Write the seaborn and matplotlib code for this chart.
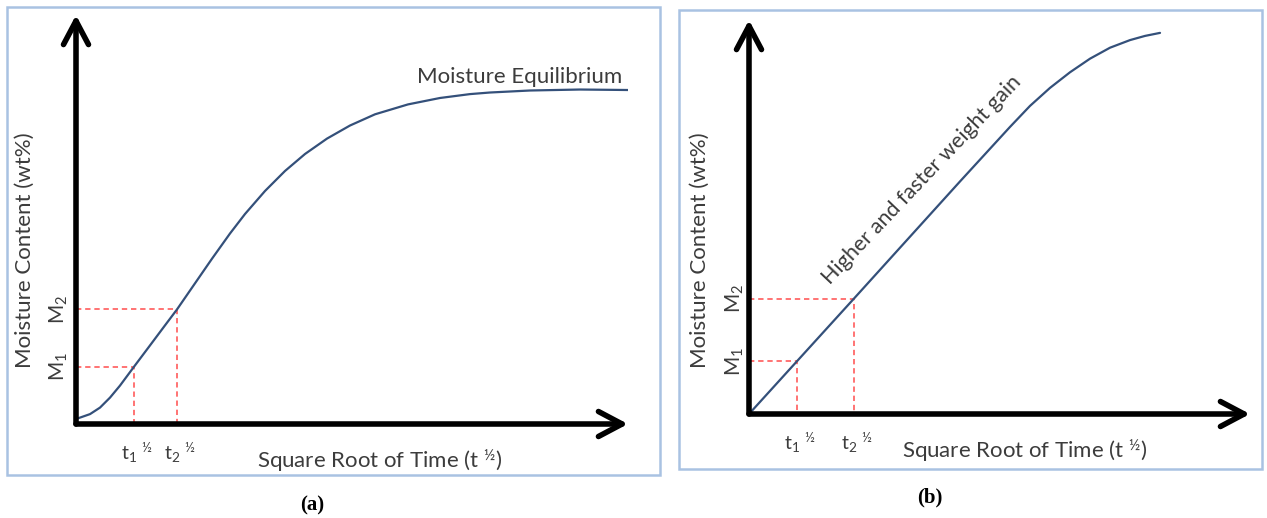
import matplotlib
matplotlib.use("Agg")
import matplotlib.pyplot as plt
import seaborn as sns
from matplotlib.patches import Rectangle

# ---- data (arbitrary 0-100 units, arrow tip = 100) ----
# panel (a): sigmoidal uptake reaching equilibrium
root_time_a = [0, 2.54, 4.35, 6.16, 7.97, 10.51, 13.41, 16.12, 18.30, 21.56,
               24.64, 27.90, 30.62, 34.24, 37.86, 41.49, 45.47, 49.64, 54.17,
               60.14, 65.94, 71.38, 75.00, 82.25, 91.30, 100]
moisture_a = [1.22, 2.42, 4.01, 6.45, 9.39, 14.01, 19.22, 24.11, 28.02, 34.40,
              40.42, 46.58, 51.35, 56.97, 61.86, 66.02, 69.78, 72.98, 75.72,
              78.14, 79.71, 80.66, 81.05, 81.54, 81.78, 81.66]
t_marks_a = [10.51, 18.30]
m_marks_a = [14.01, 28.02]

# panel (b): higher and faster, nearly linear gain
root_time_b = [0, 9.58, 20.96, 42.12, 52.10, 56.09, 60.08, 64.07, 68.06,
               72.06, 76.05, 79.04, 82.04]
moisture_b = [0, 13.40, 29.31, 59.03, 72.87, 78.20, 82.77, 86.73, 90.18,
              92.97, 94.90, 95.96, 96.73]
t_marks_b = [9.58, 20.96]
m_marks_b = [13.40, 29.31]

t_labels = ["t$_1$ $^{½}$", "t$_2$ $^{½}$"]
m_labels = ["M$_1$", "M$_2$"]
x_title = "Square Root of Time (t $^{½}$)"
y_title = "Moisture Content (wt%)"

sns.set_style("white")
plt.rcParams["font.family"] = ["Lato", "DejaVu Sans"]
plt.rcParams["mathtext.fontset"] = "custom"
plt.rcParams["mathtext.rm"] = "Lato"
plt.rcParams["mathtext.it"] = "Lato"
plt.rcParams["mathtext.bf"] = "Lato:bold"

W, H = 1267, 518
fig = plt.figure(figsize=(W / 100, H / 100), dpi=100)

curve_color = "#34507a"
dash_color = "#ff4d4d"
text_color = "#3c3c3c"
frame_color = "#a9c2e2"
fs = 16


def px_box(x0, y0, x1, y1):
    # pixel box (top-left origin) -> figure fraction rect
    return [x0 / W, 1 - y1 / H, (x1 - x0) / W, (y1 - y0) / H]


# light blue panel frames
for x0, y0, x1, y1 in [(7, 7, 660, 475), (679, 10, 1262, 469)]:
    fig.patches.append(Rectangle((x0 / W, 1 - y1 / H), (x1 - x0) / W, (y1 - y0) / H,
                                 transform=fig.transFigure, fill=False,
                                 edgecolor=frame_color, lw=1.8))

ax_a = fig.add_axes(px_box(76, 15, 628, 424))
ax_b = fig.add_axes(px_box(749, 20, 1250, 414))


def draw_panel(ax, xs, ys, t_marks, m_marks, m_off):
    ax.set_xlim(0, 100)
    ax.set_ylim(0, 100)
    ax.axis("off")
    # guide lines to the marked points
    for t, m in zip(t_marks, m_marks):
        ax.plot([0, t, t], [m, m, 0], ls=(0, (3.5, 2.5)), color=dash_color,
                lw=1.1, zorder=2, clip_on=False)
    sns.lineplot(x=xs, y=ys, ax=ax, color=curve_color, lw=1.6, zorder=3)
    # thick arrow axes
    for tip in [(1, 0), (0, 1)]:
        ax.annotate("", xy=tip, xytext=(0, 0), xycoords="axes fraction",
                    arrowprops=dict(arrowstyle="->,head_length=0.85,head_width=0.45",
                                    mutation_scale=20, lw=4, color="black",
                                    shrinkA=0, shrinkB=0, capstyle="round"),
                    zorder=5)
    for t, lab in zip(t_marks, t_labels):
        ax.annotate(lab, xy=(t, 0), xytext=(2, -21), textcoords="offset points",
                    ha="center", va="center", fontsize=fs - 2, color=text_color)
    for m, lab in zip(m_marks, m_labels):
        ax.annotate(lab, xy=(0, m), xytext=(m_off, 0), textcoords="offset points",
                    ha="center", va="center", rotation=90, fontsize=fs - 1,
                    color=text_color)
    ax.annotate(x_title, xy=(0.55, 0), xycoords="axes fraction", xytext=(0, -26),
                textcoords="offset points", ha="center", va="center",
                fontsize=fs, color=text_color)


draw_panel(ax_a, root_time_a, moisture_a, t_marks_a, m_marks_a, -12)
draw_panel(ax_b, root_time_b, moisture_b, t_marks_b, m_marks_b, -10)

ax_a.text(80.3, 84.8, "Moisture Equilibrium", ha="center", va="center",
          fontsize=fs, color=text_color)
ax_b.text(34.5, 59.5, "Higher and faster weight gain", ha="center", va="center",
          rotation=46.5, rotation_mode="anchor", fontsize=fs - 0.5, color=text_color)

fig.text(25 / W, 1 - 250 / H, y_title, rotation=90, ha="center", va="center",
         fontsize=fs, color=text_color)
fig.text(700 / W, 1 - 250 / H, y_title, rotation=90, ha="center", va="center",
         fontsize=fs, color=text_color)

fig.text(312 / W, 1 - 505 / H, "(a)", ha="center", va="center", fontsize=15,
         fontweight="bold", family="Liberation Serif", color="black")
fig.text(930 / W, 1 - 497 / H, "(b)", ha="center", va="center", fontsize=15,
         fontweight="bold", family="Liberation Serif", color="black")

fig.savefig("out.png", dpi=100, facecolor="white")
